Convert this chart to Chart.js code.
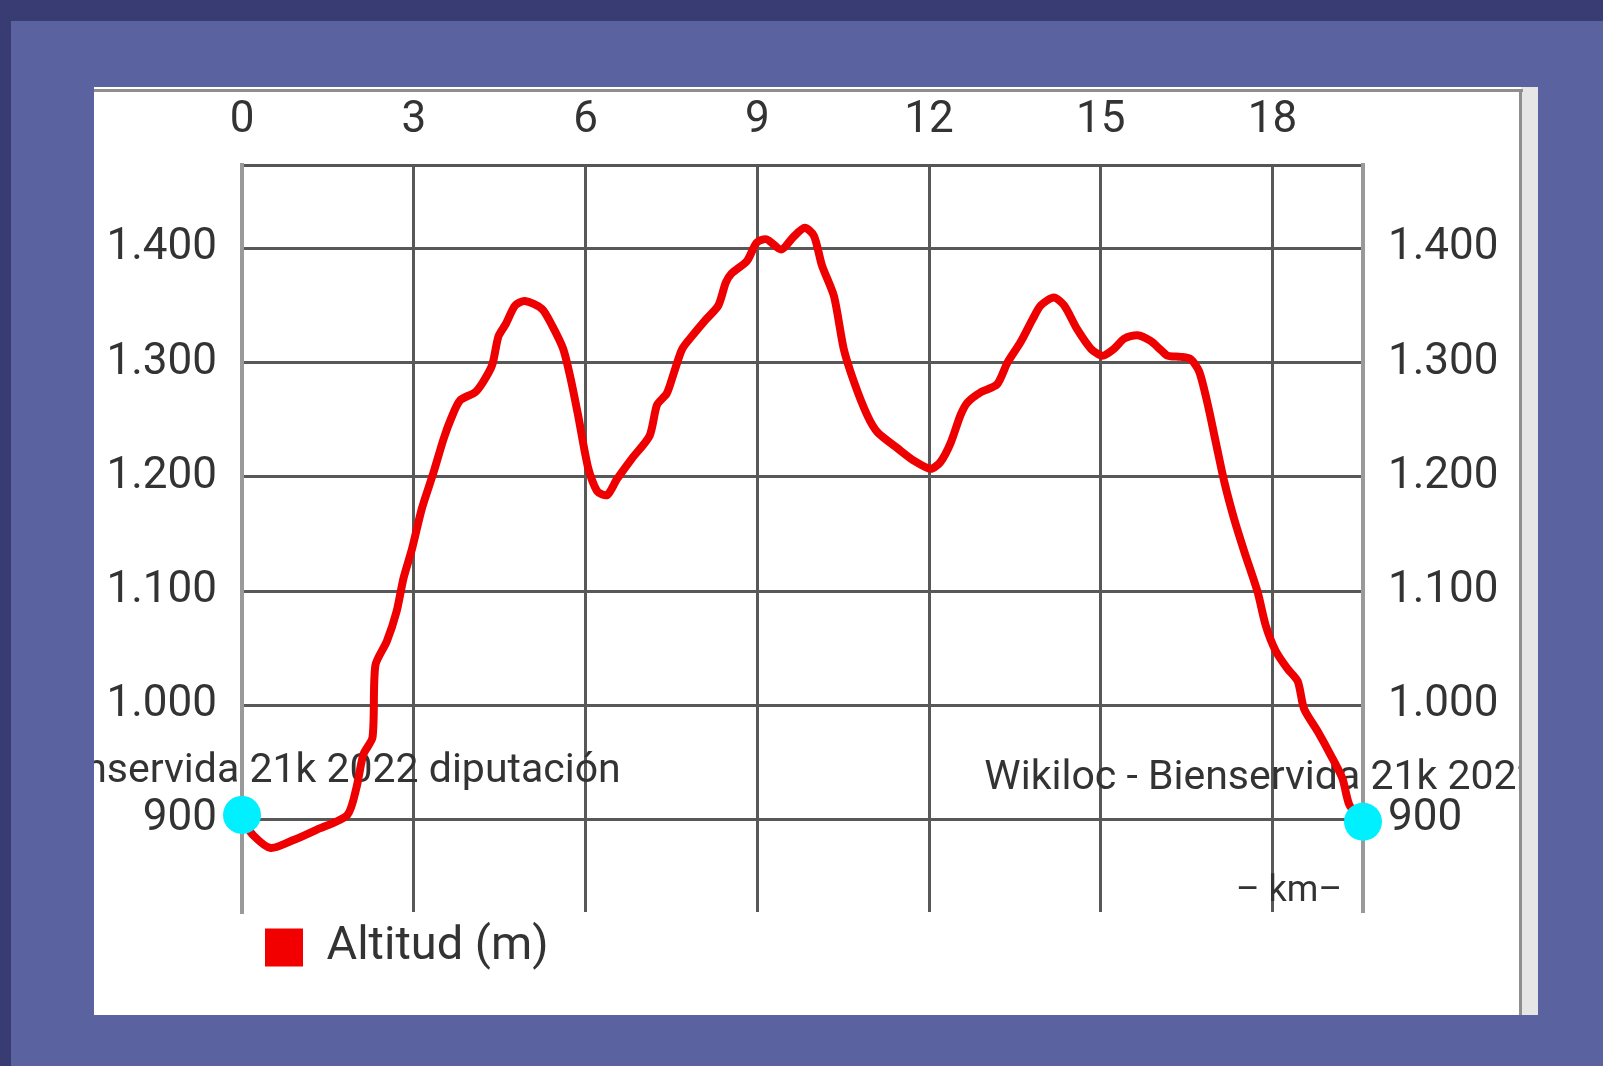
<!DOCTYPE html>
<html>
<head>
<meta charset="utf-8">
<script src="https://cdn.jsdelivr.net/npm/chart.js@4.4.1/dist/chart.umd.min.js"></script>
<style>
  html, body { margin: 0; padding: 0; }
  body { width: 1603px; height: 1066px; background: #5a62a0; position: relative; overflow: hidden; font-family: Roboto, sans-serif; }
  .band-top { position: absolute; left: 0; top: 0; width: 1603px; height: 21px; background: #393c73; }
  .band-left { position: absolute; left: 0; top: 0; width: 11px; height: 1066px; background: #393c73; }
  .strip { position: absolute; left: 1521px; top: 87px; width: 17px; height: 928px; background: #e6e6e6; }
  .panel { position: absolute; left: 94px; top: 87px; width: 1427px; height: 928px; background: #fff; }
  .line-top { position: absolute; left: 94px; top: 89px; width: 1429px; height: 3px; background: #8e8e8e; z-index: 2; }
  .line-right { position: absolute; left: 1519px; top: 89px; width: 3px; height: 926px; background: #8e8e8e; z-index: 2; }
  #chart { position: absolute; left: 94px; top: 87px; z-index: 1; }
</style>
</head>
<body>
<div class="band-top"></div>
<div class="band-left"></div>
<div class="strip"></div>
<div class="panel"></div>
<canvas id="chart" width="1427" height="928"></canvas>
<div class="line-top"></div>
<div class="line-right"></div>
<script>
// elevation profile (km, m)
const km = [0, 0.2, 0.5, 0.9, 1.3, 1.84, 2.0, 2.12, 2.28, 2.33, 2.53, 2.7, 2.82, 2.97, 3.14, 3.34, 3.52, 3.66, 3.81,
  4.07, 4.21, 4.37, 4.48, 4.61, 4.77, 4.94, 5.24, 5.41, 5.61, 5.74, 5.87, 6.05, 6.21, 6.38, 6.55, 6.81, 7.12, 7.25,
  7.42, 7.55, 7.69, 7.89, 8.09, 8.32, 8.45, 8.55, 8.82, 8.99, 9.16, 9.42, 9.63, 9.83, 9.99, 10.13, 10.34, 10.51,
  10.69, 10.92, 11.1, 11.45, 11.74, 12.03, 12.2, 12.38, 12.55, 12.67, 12.9, 13.19, 13.37, 13.6, 13.81, 13.95, 14.18,
  14.36, 14.59, 14.83, 15.03, 15.23, 15.41, 15.64, 15.87, 16.05, 16.17, 16.4, 16.57, 16.72, 16.87, 17.01, 17.16,
  17.33, 17.51, 17.74, 17.88, 18.06, 18.26, 18.44, 18.55, 18.79, 19.02, 19.22, 19.34, 19.55];
const altitud = [900, 886, 875, 882, 891, 904, 928, 957, 972, 1035, 1056, 1082, 1111, 1137, 1172, 1203, 1233, 1252, 1267,
  1274, 1283, 1298, 1323, 1334, 1350, 1354, 1347, 1333, 1312, 1286, 1254, 1207, 1187, 1184, 1198, 1216, 1236, 1263,
  1273, 1292, 1312, 1325, 1337, 1350, 1370, 1378, 1389, 1405, 1408, 1399, 1410, 1418, 1411, 1385, 1358, 1312,
  1283, 1254, 1239, 1225, 1214, 1207, 1213, 1230, 1254, 1265, 1274, 1281, 1300, 1318, 1338, 1350, 1357,
  1350, 1329, 1312, 1306, 1312, 1321, 1324, 1319, 1311, 1306, 1305, 1303, 1292, 1263, 1230, 1195,
  1163, 1134, 1099, 1070, 1047, 1032, 1021, 997, 977, 956, 936, 913, 899];

// start / end markers
const markerKm = [0, 19.58];
const markerAlt = [904, 898];

const xTicks = [0, 3, 6, 9, 12, 15, 18];
const yTicks = [900, 1000, 1100, 1200, 1300, 1400];
const xMax = 19.58, yMin = 819, yMax = 1473;

const seriesLabel = 'Altitud (m)';
const trackTitle = 'Wikiloc - Bienservida 21k 2022 diputación';
const axisTitle = '– km–';

const TEXT = '#333333';
const GRID = '#585858';

// 1.400 style (dot as thousands separator)
function fmtThousands(v) {
  if (v < 1000) return String(v);
  return Math.floor(v / 1000) + '.' + String(v % 1000).padStart(3, '0');
}

const trackLabels = {
  id: 'trackLabels',
  afterLayout(chart) {
    // pull the legend row a bit closer to the plot
    chart.legend.top -= 11;
    chart.legend.bottom -= 11;
  },
  beforeDatasetsDraw(chart) {
    const { ctx, chartArea } = chart;
    const x = chart.scales.x, y = chart.scales.y;
    ctx.save();
    ctx.fillStyle = TEXT;
    ctx.font = '41px Roboto';
    ctx.textAlign = 'center';
    ctx.textBaseline = 'alphabetic';
    markerKm.forEach((k, i) => {
      ctx.fillText(trackTitle, x.getPixelForValue(k), y.getPixelForValue(markerAlt[i]) - 33);
    });
    ctx.font = '36px Roboto';
    ctx.textAlign = 'right';
    ctx.fillText(axisTitle, chartArea.right - 21, chartArea.bottom - 11);
    ctx.restore();
  }
};

const tickFont = { family: 'Roboto', size: 44 };

new Chart(document.getElementById('chart'), {
  type: 'line',
  data: {
    datasets: [
      {
        label: 'markers',
        data: markerKm.map((k, i) => ({ x: k, y: markerAlt[i] })),
        showLine: false,
        pointRadius: 19,
        pointBackgroundColor: '#00f0ff',
        pointBorderWidth: 0,
        clip: false,
        order: 0
      },
      {
        label: seriesLabel,
        data: km.map((k, i) => ({ x: k, y: altitud[i] })),
        borderColor: '#ee0000',
        backgroundColor: '#f20000',
        borderWidth: 8,
        borderJoinStyle: 'round',
        borderCapStyle: 'round',
        pointRadius: 0,
        tension: 0.25,
        order: 1
      }
    ]
  },
  options: {
    responsive: false,
    animation: false,
    layout: { padding: { bottom: 23 } },
    scales: {
      x: {
        type: 'linear',
        position: 'top',
        min: 0, max: xMax,
        afterBuildTicks: (s) => { s.ticks = xTicks.map(v => ({ value: v })); },
        afterFit: (s) => { s.height = 78; },
        grid: { color: GRID, lineWidth: 3, drawTicks: false },
        border: { color: '#555555', width: 3 },
        ticks: { font: tickFont, color: TEXT, padding: 18, maxRotation: 0 }
      },
      y: {
        position: 'left',
        min: yMin, max: yMax,
        afterBuildTicks: (s) => { s.ticks = yTicks.map(v => ({ value: v })); },
        afterFit: (s) => { s.width = 148; },
        grid: { color: GRID, lineWidth: 3, drawTicks: false },
        border: { color: '#9a9a9a', width: 4 },
        ticks: { font: tickFont, color: TEXT, padding: 25, callback: (v) => fmtThousands(v) }
      },
      y2: {
        position: 'right',
        min: yMin, max: yMax,
        afterBuildTicks: (s) => { s.ticks = yTicks.map(v => ({ value: v })); },
        afterFit: (s) => { s.width = 158; },
        grid: { drawOnChartArea: false, drawTicks: false },
        border: { color: '#9a9a9a', width: 4 },
        ticks: { font: tickFont, color: TEXT, padding: 25, callback: (v) => fmtThousands(v) }
      }
    },
    plugins: {
      tooltip: { enabled: false },
      legend: {
        position: 'bottom',
        align: 'start',
        fullSize: false,
        labels: {
          boxWidth: 38,
          boxHeight: 38,
          padding: 23,
          color: TEXT,
          font: { family: 'Roboto', size: 47 },
          filter: (item) => item.text === seriesLabel,
          generateLabels: (chart) => Chart.defaults.plugins.legend.labels.generateLabels(chart)
            .map(l => ({ ...l, lineWidth: 0 }))
        }
      }
    }
  },
  plugins: [trackLabels]
});
</script>
</body>
</html>
